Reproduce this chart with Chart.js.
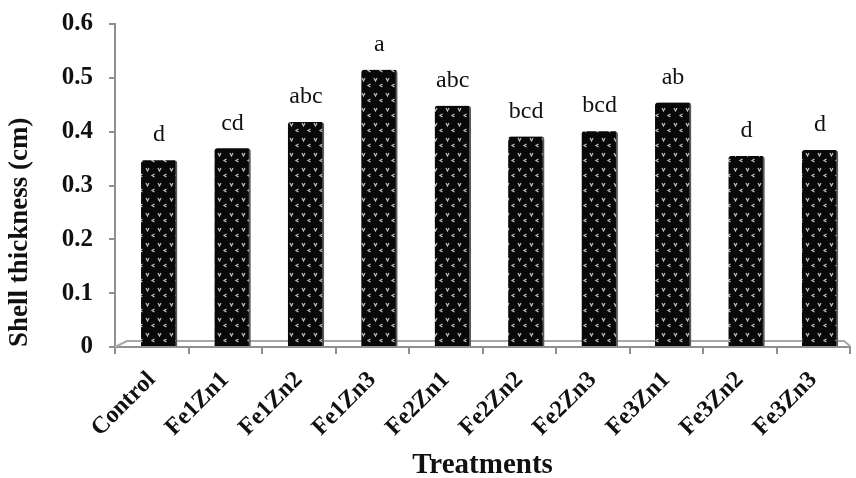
<!DOCTYPE html>
<html>
<head>
<meta charset="utf-8">
<script src="https://cdn.jsdelivr.net/npm/chart.js@4.4.0/dist/chart.umd.min.js"></script>
<style>
  html, body { margin: 0; padding: 0; background: #fff; }
  #wrap { width: 856px; height: 478px; position: relative; }
</style>
</head>
<body>
<div id="wrap"><canvas id="shellChart"></canvas></div>
<script>
// treatments and mean shell thickness (cm)
const treatments = ['Control', 'Fe1Zn1', 'Fe1Zn2', 'Fe1Zn3', 'Fe2Zn1', 'Fe2Zn2', 'Fe2Zn3', 'Fe3Zn1', 'Fe3Zn2', 'Fe3Zn3'];
const thickness = [0.347, 0.369, 0.418, 0.515, 0.448, 0.391, 0.401, 0.454, 0.355, 0.366];
const letters = ['d', 'cd', 'abc', 'a', 'abc', 'bcd', 'bcd', 'ab', 'd', 'd'];
const yTicks = [0, 0.1, 0.2, 0.3, 0.4, 0.5, 0.6];

const serif = "'Liberation Serif', 'DejaVu Serif', serif";
const axisGray = '#8f8f8f';

// black fill with small light marks, like the printed bar texture
function makePattern() {
    const c = document.createElement('canvas');
    c.width = 12; c.height = 15;
    const g = c.getContext('2d');
    g.fillStyle = '#080808';
    g.fillRect(0, 0, 12, 15);
    g.strokeStyle = '#c4c4c4';
    g.lineWidth = 1.2;
    g.beginPath();
    g.moveTo(2, 3); g.lineTo(3.5, 6); g.lineTo(5, 3);
    g.moveTo(10.5, 9); g.lineTo(8, 10.5); g.lineTo(10.5, 12);
    g.stroke();
    return g.createPattern(c, 'repeat');
}

// letters above the bars
const letterPlugin = {
    id: 'letters',
    afterDatasetsDraw(chart) {
        const ctx = chart.ctx;
        const meta = chart.getDatasetMeta(0);
        ctx.save();
        ctx.fillStyle = '#111';
        ctx.font = '24px ' + serif;
        ctx.textAlign = 'center';
        ctx.textBaseline = 'bottom';
        meta.data.forEach((bar, i) => {
            ctx.fillText(letters[i], bar.x, bar.y - 13);
        });
        ctx.restore();
    }
};

// the flat grey "floor" of the 3-D plot
const floorPlugin = {
    id: 'floor',
    beforeDatasetsDraw(chart) {
        const { ctx, chartArea } = chart;
        const y0 = chartArea.bottom;
        ctx.save();
        ctx.strokeStyle = '#a8a8a8';
        ctx.lineWidth = 2;
        ctx.beginPath();
        ctx.moveTo(chartArea.left, y0);
        ctx.lineTo(chartArea.left + 12, y0 - 6);
        ctx.lineTo(chartArea.right - 6, y0 - 6);
        ctx.lineTo(chartArea.right, y0 - 1);
        ctx.stroke();
        ctx.restore();
    }
};

new Chart(document.getElementById('shellChart'), {
    type: 'bar',
    data: {
        labels: treatments,
        datasets: [{
            // bars sit on a hidden linear axis, shifted right like the 3-D depth offset
            xAxisID: 'xb',
            data: thickness.map((v, i) => ({ x: i, y: v })),
            backgroundColor: makePattern(),
            borderColor: '#5a5a5a',
            borderWidth: { left: 0, right: 2, top: 0, bottom: 0 },
            borderRadius: 3,
            borderSkipped: 'bottom',
            barThickness: 36
        }]
    },
    options: {
        responsive: true,
        maintainAspectRatio: false,
        animation: false,
        layout: { padding: { top: 24, right: 6, left: 0, bottom: 0 } },
        plugins: { legend: { display: false }, tooltip: { enabled: false } },
        scales: {
            x: {
                offset: true,
                afterFit: axis => { axis.height = 131; },
                grid: { offset: true, drawOnChartArea: false, drawTicks: true, tickLength: 7, color: axisGray, lineWidth: 2 },
                border: { color: axisGray, width: 2 },
                ticks: {
                    color: '#111',
                    font: { family: serif, size: 24, weight: 'bold' },
                    maxRotation: 45, minRotation: 45, padding: 12
                },
                title: {
                    display: true, text: 'Treatments', color: '#111',
                    font: { family: serif, size: 29, weight: 'bold' },
                    padding: { top: 0, bottom: -5 }
                }
            },
            xb: {
                type: 'linear',
                display: false,
                min: -0.6, max: 9.41,
                offset: false
            },
            y: {
                min: 0, max: 0.6,
                afterFit: axis => { axis.width = 115; axis.paddingTop = 0; axis.paddingBottom = 0; },
                afterBuildTicks: axis => { axis.ticks = yTicks.map(v => ({ value: v })); },
                grid: { drawOnChartArea: false, drawTicks: true, tickLength: 6, color: axisGray, lineWidth: 2 },
                border: { color: axisGray, width: 2 },
                ticks: {
                    color: '#111',
                    font: { family: serif, size: 25, weight: 'bold' },
                    padding: 16,
                    callback: v => (v === 0 ? '0' : v.toFixed(1))
                },
                title: {
                    display: true, text: 'Shell thickness (cm)', color: '#111',
                    align: 'start',
                    font: { family: serif, size: 27, weight: 'bold' },
                    padding: { top: 4, bottom: 0 }
                }
            }
        }
    },
    plugins: [floorPlugin, letterPlugin]
});
</script>
</body>
</html>
